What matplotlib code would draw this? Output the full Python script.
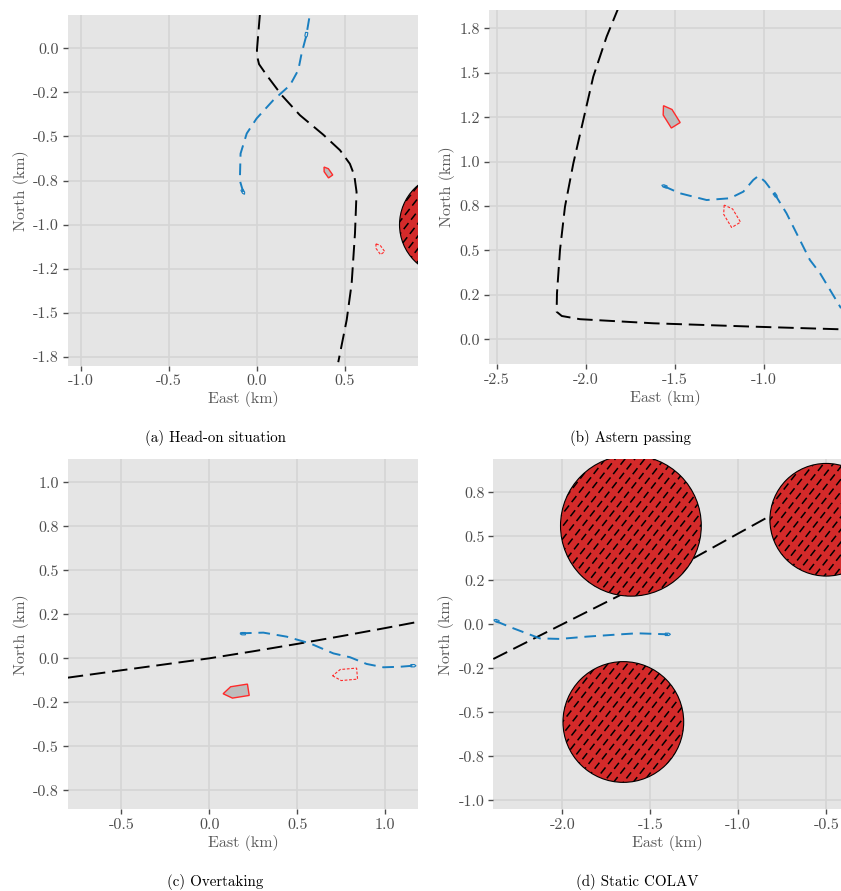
import numpy as np
import matplotlib
matplotlib.use('Agg')
import matplotlib.pyplot as plt
from matplotlib.patches import Circle, Polygon
from matplotlib.ticker import MultipleLocator, FormatStrFormatter

plt.rcParams['font.family'] = 'serif'
plt.rcParams['font.serif'] = ['cmr10']
plt.rcParams['mathtext.fontset'] = 'cm'
plt.rcParams['axes.unicode_minus'] = False
plt.rcParams['axes.formatter.use_mathtext'] = False

#### Data (East, North in km)

# (a) Head-on situation
a_own_e = [0.017, 0.0, 0.001, 0.012, 0.055, 0.14, 0.244, 0.377, 0.472, 0.528, 0.553, 0.566, 0.557, 0.538, 0.51, 0.462]
a_own_n = [0.195, -0.01, -0.045, -0.09, -0.152, -0.265, -0.379, -0.49, -0.578, -0.655, -0.72, -0.815, -1.05, -1.335, -1.54, -1.78]
a_tgt_e = [0.297, 0.28, 0.254, 0.235, 0.188, 0.093, -0.002, -0.058, -0.093, -0.097, -0.078]
a_tgt_n = [0.17, 0.07, -0.028, -0.123, -0.209, -0.294, -0.398, -0.483, -0.597, -0.75, -0.815]
a_tgt_boats = [(0.28, 0.075, -100), (-0.078, -0.815, -60)]
a_obs_solid = [(0.40, -0.70, 125, 0.065)]
a_obs_dashed = [(0.695, -1.135, 126, 0.065)]
a_circles = [(1.10, -1.0, 0.29)]

# (b) Astern passing
b_own_e = [-1.815, -1.884, -1.959, -2.015, -2.071, -2.118, -2.146, -2.163, -2.165, -2.136, -2.034, -1.622, -1.06, -0.567]
b_own_n = [1.873, 1.704, 1.479, 1.235, 0.991, 0.747, 0.503, 0.259, 0.155, 0.131, 0.113, 0.09, 0.071, 0.056]
b_tgt_e = [-1.565, -1.472, -1.322, -1.191, -1.116, -1.06, -1.031, -0.994, -0.933, -0.873, -0.742, -0.685, -0.567]
b_tgt_n = [0.863, 0.822, 0.784, 0.794, 0.831, 0.897, 0.920, 0.888, 0.807, 0.709, 0.447, 0.372, 0.175]
b_tgt_boats = [(-1.56, 0.862, 160), (-0.935, 0.81, -55)]
b_obs_solid = [(-1.53, 1.26, 122, 0.13)]
b_obs_dashed = [(-1.19, 0.70, 121, 0.13)]
b_circles = []

# (c) Overtaking
c_own_e = [-0.805, -0.5, -0.25, 0.0, 0.25, 0.5, 0.75, 1.0, 1.19]
c_own_n = [-0.110, -0.068, -0.034, 0.0, 0.04, 0.082, 0.126, 0.172, 0.208]
c_tgt_e = [0.174, 0.307, 0.44, 0.572, 0.705, 0.8, 0.894, 0.989, 1.083, 1.159]
c_tgt_n = [0.142, 0.146, 0.123, 0.085, 0.028, 0.006, -0.032, -0.051, -0.048, -0.042]
c_tgt_boats = [(0.19, 0.14, 180), (1.16, -0.042, 0)]
c_obs_solid = [(0.15, -0.19, 189, 0.145)]
c_obs_dashed = [(0.77, -0.093, 185, 0.14)]
c_circles = []

# (d) Static COLAV
d_own_e = [-2.392, -1.255, -0.821, -0.55]
d_own_n = [-0.197, 0.375, 0.615, 0.76]
d_tgt_e = [-2.38, -2.288, -2.127, -2.013, -1.861, -1.67, -1.575, -1.398]
d_tgt_n = [0.019, -0.019, -0.080, -0.083, -0.070, -0.057, -0.051, -0.057]
d_tgt_boats = [(-2.375, 0.02, 160), (-1.40, -0.057, 0)]
d_obs_solid = []
d_obs_dashed = []
d_circles = [(-1.61, 0.56, 0.40), (-1.653, -0.555, 0.343), (-0.50, 0.594, 0.32)]

captions = ['(a) Head-on situation', '(b) Astern passing', '(c) Overtaking', '(d) Static COLAV']
xlims = [(-1.075, 0.915), (-2.545, -0.567), (-0.805, 1.186), (-2.392, -0.416)]
ylims = [(-1.80, 0.189), (-0.141, 1.854), (-0.858, 1.131), (-1.051, 0.9375)]
# axes positions in pixels: left, top, right, bottom
ax_px = [(67.7, 15, 418, 365.7), (489, 10, 841, 364.3), (67.7, 459.3, 418, 809.3), (493.3, 459.3, 841, 809.3)]
cap_px = [(215, 438), (630, 438), (215, 882), (637, 882)]

W, H = 841, 891
BLUE = '#1a7fc0'
RED = '#ff2a2a'
CIRC = '#d42a2a'
GREY_TXT = '#5a5a5a'


def boat(e, n, hdg, L, Wd=None):
    if Wd is None:
        Wd = 0.45*L
    body = np.array([[L/2, 0], [L/6, Wd/2], [-L/2, Wd/2], [-L/2, -Wd/2], [L/6, -Wd/2]])
    t = np.deg2rad(hdg)
    R = np.array([[np.cos(t), -np.sin(t)], [np.sin(t), np.cos(t)]])
    return body @ R.T + np.array([e, n])


def hatched_circle(ax, e, n, r):
    circ = Circle((e, n), r, facecolor=CIRC, edgecolor='black', lw=0.8, zorder=5)
    ax.add_patch(circ)
    ang = np.deg2rad(52)
    d = np.array([np.cos(ang), np.sin(ang)])
    nrm = np.array([-d[1], d[0]])
    sp = 0.044
    for k in np.arange(-r, r + sp, sp):
        p0 = np.array([e, n]) + k*nrm - 1.1*r*d
        p1 = np.array([e, n]) + k*nrm + 1.1*r*d
        ln, = ax.plot([p0[0], p1[0]], [p0[1], p1[1]], color='black', lw=1.1,
                      dashes=(5, 2.8), zorder=6)
        ln.set_clip_path(circ)


panels = [
    (a_own_e, a_own_n, a_tgt_e, a_tgt_n, a_tgt_boats, a_obs_solid, a_obs_dashed, a_circles),
    (b_own_e, b_own_n, b_tgt_e, b_tgt_n, b_tgt_boats, b_obs_solid, b_obs_dashed, b_circles),
    (c_own_e, c_own_n, c_tgt_e, c_tgt_n, c_tgt_boats, c_obs_solid, c_obs_dashed, c_circles),
    (d_own_e, d_own_n, d_tgt_e, d_tgt_n, d_tgt_boats, d_obs_solid, d_obs_dashed, d_circles),
]

fig = plt.figure(figsize=(W/100, H/100), dpi=100)

for i, (own_e, own_n, tgt_e, tgt_n, tboats, osolid, odashed, circles) in enumerate(panels):
    l, t, r, b = ax_px[i]
    ax = fig.add_axes([l/W, 1 - b/H, (r - l)/W, (b - t)/H])
    ax.set_facecolor('#e5e5e5')
    for s in ax.spines.values():
        s.set_visible(False)
    ax.grid(True, color='#d5d5d5', lw=1.2)
    ax.set_axisbelow(True)

    ax.plot(own_e, own_n, color='black', lw=1.4, dashes=(8, 3.5), zorder=3)
    ax.plot(tgt_e, tgt_n, color=BLUE, lw=1.4, dashes=(6, 3.5), zorder=3)
    for (e, n, h) in tboats:
        ax.add_patch(Polygon(boat(e, n, h, 0.03), closed=True, fill=False,
                             edgecolor=BLUE, lw=0.8, zorder=4))
    for (e, n, h, L) in osolid:
        ax.add_patch(Polygon(boat(e, n, h, L), closed=True, facecolor='#bdbdbd',
                             edgecolor=RED, lw=1.0, zorder=4))
    for (e, n, h, L) in odashed:
        ax.add_patch(Polygon(boat(e, n, h, L), closed=True, fill=False,
                             edgecolor=RED, lw=0.8, ls=(0, (2.5, 1.5)), zorder=4))
    for (e, n, rr) in circles:
        hatched_circle(ax, e, n, rr)

    ax.set_xlim(*xlims[i])
    ax.set_ylim(*ylims[i])
    ax.xaxis.set_major_locator(MultipleLocator(0.5))
    ax.yaxis.set_major_locator(MultipleLocator(0.25))
    ax.xaxis.set_major_formatter(FormatStrFormatter('%.1f'))
    ax.yaxis.set_major_formatter(FormatStrFormatter('%.1f'))
    ax.tick_params(colors='#4d4d4d', labelcolor='#4d4d4d', labelsize=11.5,
                   length=3.5, width=1, pad=3)
    ax.set_xlabel('East (km)', color=GREY_TXT, fontsize=11.5, labelpad=2)
    ax.set_ylabel('North (km)', color=GREY_TXT, fontsize=11.5, labelpad=3)

    cx, cy = cap_px[i]
    fig.text(cx/W, 1 - cy/H, captions[i], ha='center', va='center', fontsize=10.8)

fig.savefig('out.png', dpi=100)
